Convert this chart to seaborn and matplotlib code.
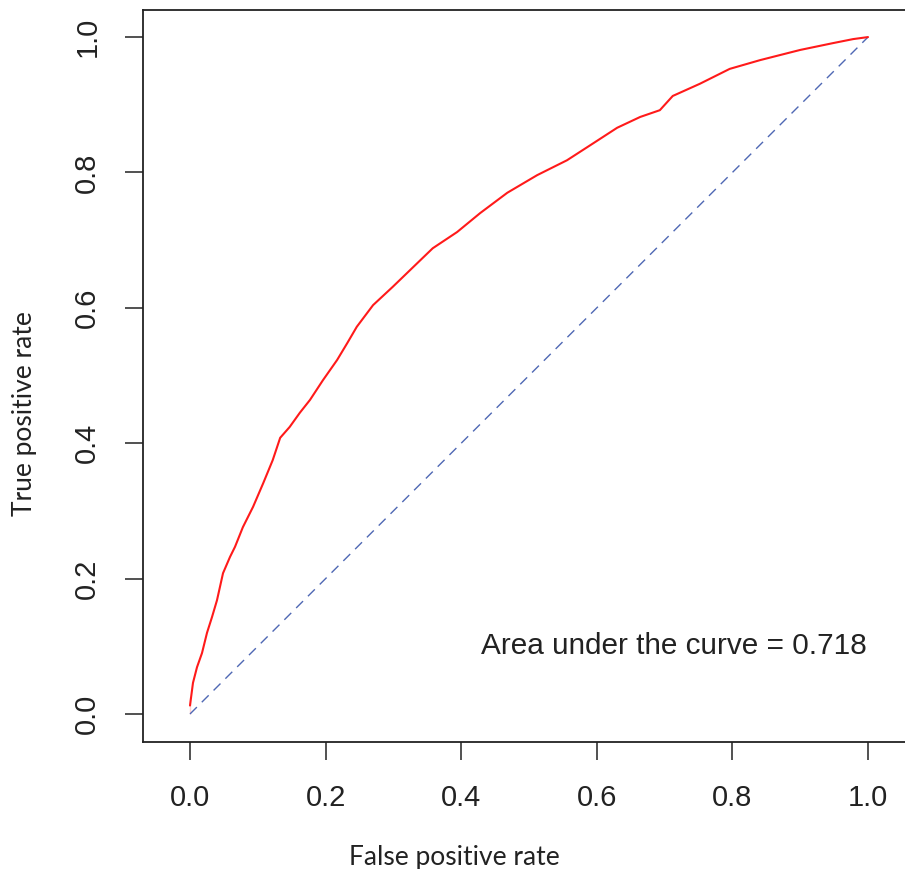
import matplotlib
matplotlib.use("Agg")
import matplotlib.pyplot as plt
import seaborn as sns
import pandas as pd

fpr = [0.0, 0.0, 0.0044, 0.0103, 0.0177, 0.0251, 0.0324, 0.0398, 0.0487, 0.059,
       0.0664, 0.078, 0.093, 0.108, 0.122, 0.133, 0.147, 0.162, 0.177, 0.196,
       0.217, 0.232, 0.246, 0.261, 0.270, 0.299, 0.329, 0.358, 0.394, 0.428,
       0.468, 0.512, 0.556, 0.590, 0.630, 0.664, 0.693, 0.712, 0.752, 0.796,
       0.841, 0.900, 0.948, 0.978, 1.0]
tpr = [0.0, 0.025, 0.046, 0.069, 0.090, 0.120, 0.143, 0.168, 0.208, 0.232,
       0.247, 0.276, 0.306, 0.341, 0.375, 0.408, 0.424, 0.445, 0.464, 0.493,
       0.523, 0.548, 0.572, 0.592, 0.604, 0.631, 0.660, 0.688, 0.712, 0.740,
       0.770, 0.796, 0.818, 0.840, 0.866, 0.882, 0.892, 0.913, 0.931, 0.953,
       0.966, 0.981, 0.991, 0.997, 1.0]
diag_x = [0.0, 1.0]
diag_y = [0.0, 1.0]
ticks = [0.0, 0.2, 0.4, 0.6, 0.8, 1.0]
tick_labels = ["0.0", "0.2", "0.4", "0.6", "0.8", "1.0"]
auc_text = "Area under the curve = 0.718"

sns.set_theme(style="white")
plt.rcParams["font.family"] = ["Liberation Sans", "DejaVu Sans"]

W, H = 905, 869
fig = plt.figure(figsize=(W / 100, H / 100), dpi=100)
left_px, right_px, top_px, bot_px = 143, 930.0, 10, 742
x0_px, px_per_unit = 190.0, 678.0
ax = fig.add_axes([left_px / W, 1 - bot_px / H, (right_px - left_px) / W, (bot_px - top_px) / H])

roc = pd.DataFrame({"fpr": fpr, "tpr": tpr})
diag = pd.DataFrame({"x": diag_x, "y": diag_y})
sns.lineplot(data=diag, x="x", y="y", ax=ax, color="#4f68b4", linewidth=1.0,
             linestyle=(0, (7, 5)), sort=False)
sns.lineplot(data=roc, x="fpr", y="tpr", ax=ax, color="#ff1a1a", linewidth=1.5,
             sort=False)

ax.set_xlim((left_px - x0_px) / px_per_unit, (right_px - x0_px) / px_per_unit)
ax.set_ylim(-0.0414, 1.04)
ax.set_xticks(ticks)
ax.set_xticklabels(tick_labels)
ax.set_yticks(ticks)
ax.set_yticklabels(tick_labels, rotation=90, va="center")

for s in ax.spines.values():
    s.set_color("#222222")
    s.set_linewidth(1.3)
ax.spines["right"].set_visible(False)
ax.tick_params(axis="both", which="major", direction="out", length=13, width=1.1,
               color="#222222", labelsize=21, labelcolor="#222222", left=True, bottom=True)
ax.tick_params(axis="x", pad=17)
ax.tick_params(axis="y", pad=17)

ax.text(0.7142, 0.1, auc_text, ha="center", va="center", fontsize=21.4, color="#222222")

ax.set_xlabel("False positive rate", fontsize=19, family=["Lato", "DejaVu Sans"], color="#222222")
ax.set_ylabel("True positive rate", fontsize=19, family=["Lato", "DejaVu Sans"], color="#222222")
ax.xaxis.set_label_coords((454 - left_px) / (right_px - left_px), -(857 - bot_px) / (bot_px - top_px))
ax.yaxis.set_label_coords(-(left_px - 25) / (right_px - left_px), (bot_px - 414) / (bot_px - top_px))
ax.xaxis.label.set_va("center")
ax.yaxis.label.set_va("center")

fig.savefig("out.png", dpi=100)
